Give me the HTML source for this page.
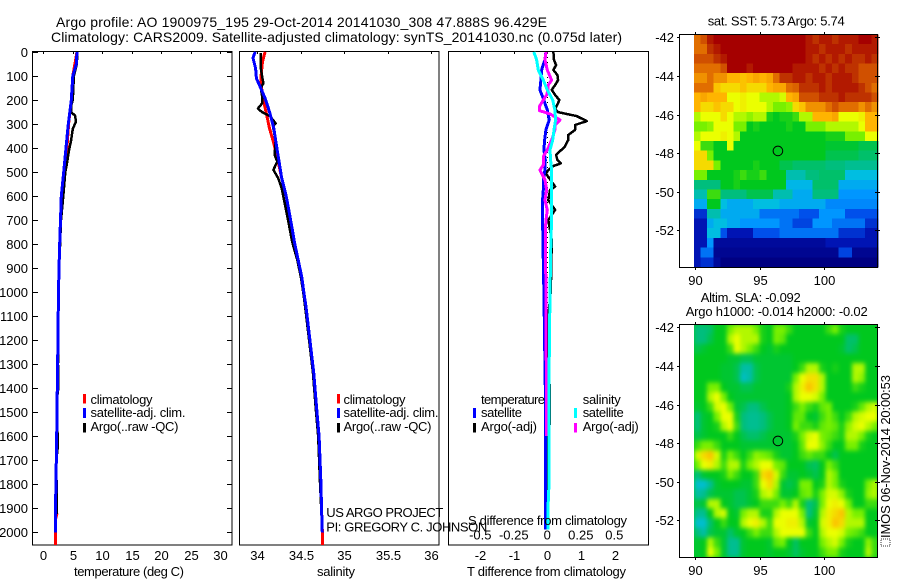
<!DOCTYPE html>
<html>
<head>
<meta charset="utf-8">
<title>Argo profile</title>
<style>
html,body{margin:0;padding:0;background:#fff;}
svg{display:block;}
text{font-family:"Liberation Sans",sans-serif;fill:#000;font-size:13px;}
.t{font-size:14px;}
</style>
</head>
<body>
<svg id="fig" xmlns="http://www.w3.org/2000/svg" width="900" height="580" viewBox="0 0 900 580">
<defs>
<filter id="slaSmooth" color-interpolation-filters="sRGB" x="-5%" y="-5%" width="110%" height="110%"><feGaussianBlur stdDeviation="2 2.5"/></filter>
<clipPath id="slaClip"><rect x="694" y="325" width="184" height="232"/></clipPath>
</defs>
<text class="t" x="56" y="27" textLength="491">Argo profile: AO 1900975_195 29-Oct-2014 20141030_308 47.888S 96.429E</text>
<text class="t" x="51" y="42" textLength="571">Climatology: CARS2009. Satellite-adjusted climatology: synTS_20141030.nc (0.075d later)</text>

<g id="maps">
<g id="sstCells"></g>
<g clip-path="url(#slaClip)">
<rect x="680" y="310" width="210" height="260" fill="rgb(0,200,40)"/>
<g id="slaCells" filter="url(#slaSmooth)"></g>
</g>
</g>
<g id="plots"></g>

<text x="129" y="576" text-anchor="middle" textLength="110">temperature (deg C)</text>
<text x="336" y="576" text-anchor="middle" textLength="38">salinity</text>
<text x="467" y="576" textLength="159">T difference from climatology</text>
<text x="468" y="525" textLength="159">S difference from climatology</text>

<g>
<rect x="83" y="394" width="3" height="9.5" fill="#f00"/>
<rect x="83" y="408" width="3" height="10" fill="#00f"/>
<rect x="83" y="423" width="3" height="9.5" fill="#000"/>
<text x="90.5" y="404" textLength="62">climatology</text>
<text x="90.5" y="417" textLength="95">satellite-adj. clim.</text>
<text x="90.5" y="431" textLength="88">Argo(..raw -QC)</text>
</g>
<g>
<rect x="337" y="394" width="3" height="9.5" fill="#f00"/>
<rect x="337" y="408" width="3" height="10" fill="#00f"/>
<rect x="337" y="423" width="3" height="9.5" fill="#000"/>
<text x="343.5" y="404" textLength="62">climatology</text>
<text x="343.5" y="417" textLength="95">satellite-adj. clim.</text>
<text x="343.5" y="431" textLength="88">Argo(..raw -QC)</text>
</g>
<g>
<text x="481" y="404" textLength="64">temperature</text>
<text x="582.7" y="404" textLength="38">salinity</text>
<rect x="473" y="408" width="3" height="10" fill="#00f"/>
<rect x="473" y="423" width="3" height="9.5" fill="#000"/>
<rect x="574" y="408" width="3" height="10" fill="#0ff"/>
<rect x="574" y="423" width="3" height="9.5" fill="#f0f"/>
<text x="481" y="417" textLength="41">satellite</text>
<text x="481" y="431" textLength="56">Argo(-adj)</text>
<text x="582.7" y="417" textLength="41">satellite</text>
<text x="582.7" y="431" textLength="56">Argo(-adj)</text>
</g>

<text x="326.3" y="517" textLength="117">US ARGO PROJECT</text>
<text x="326.3" y="531.5" textLength="161">PI: GREGORY C. JOHNSON</text>

<text x="707.7" y="25.5" textLength="137">sat. SST: 5.73 Argo: 5.74</text>
<text x="700.7" y="302" textLength="100">Altim. SLA: -0.092</text>
<text x="685.7" y="316" textLength="182">Argo h1000: -0.014 h2000: -0.02</text>
<text transform="translate(890,538) rotate(-90)" x="0" y="0" textLength="163">IMOS 06-Nov-2014 20:00:53</text>
<rect x="881" y="539" width="9" height="7" fill="none" stroke="#333" stroke-width="1" stroke-dasharray="1 1"/>
</svg>

<script>
/* ---------- profile data ---------- */
const tempClimP = [0,100,200,300,400,500,600,700,800,900,1000,1100,1200,1300,1400,1500,1600,1700,1800,1900,1925,1950,2054];
const tempClimV = [5.72,5.0,4.75,4.3,4.0,3.55,3.06,2.92,2.78,2.66,2.58,2.53,2.5,2.43,2.38,2.33,2.27,2.2,2.15,2.1,2.3,2.04,2.04];
const tempSatP = [0,50,100,200,300,400,500,600,700,800,900,1000,1100,1200,1300,1400,1500,1600,1700,1800,1850,1900,2003];
const tempSatV = [5.72,5.6,5.0,4.75,4.25,3.85,3.46,3.06,2.92,2.78,2.66,2.58,2.53,2.5,2.43,2.38,2.33,2.27,2.2,2.15,2.1,2.04,2.04];
const tempArgoP = [5,50,100,150,200,225,250,265,290,320,370,410,470,500,600,700,800,900,1000,1100,1200,1300,1400,1450,1550,1650,1700,1900,1925];
const tempArgoV = [5.75,5.7,5.2,5.1,5.0,4.7,4.7,5.38,5.55,5.0,4.7,4.36,3.97,3.74,3.4,3.0,2.85,2.7,2.6,2.55,2.55,2.5,2.55,2.3,2.4,2.45,2.2,2.3,2.3];

const salClimP = [0,5,40,110,180,249,318,375,457,526,596,665,735,790,867,936,1006,1061,1200,1339,1478,1603,1783,1922,1992,2054];
const salClimV = [34.09,34.085,34.06,34.04,34.057,34.1,34.14,34.185,34.24,34.28,34.33,34.365,34.40,34.425,34.47,34.505,34.535,34.555,34.605,34.65,34.68,34.71,34.73,34.74,34.747,34.747];
const salSatP = [0,5,25,68,110,151,193,249,318,388,457,526,596,665,735,790,867,936,1006,1061,1200,1339,1478,1603,1783,1922,2003];
const salSatV = [33.98,33.97,33.95,33.98,33.99,34.04,34.09,34.14,34.19,34.22,34.25,34.28,34.33,34.365,34.40,34.425,34.47,34.51,34.537,34.56,34.605,34.65,34.68,34.71,34.73,34.74,34.747];
const salArgoP = [5,68,110,130,151,193,214,235,249,267,297,311,370,430,457,491,526,568,638,707,790,867,936,1006,1061,1200,1339,1478,1603,1783,1900];
const salArgoV = [34.04,34.04,34.06,34.07,34.04,34.06,34.055,34.008,34.05,34.146,34.21,34.18,34.21,34.2,34.23,34.185,34.24,34.28,34.32,34.357,34.40,34.46,34.5,34.53,34.55,34.595,34.64,34.67,34.70,34.72,34.735];

const diffTSatP = [0,33,75,117,158,200,242,283,325,367,408,450,492,533,575,617,658,700,783,1000,1200,1400,1600,1800,1990];
const diffTSatV = [-0.04,-0.07,-0.17,-0.19,-0.22,-0.1,0,0.06,-0.04,-0.08,-0.1,-0.06,-0.07,-0.12,-0.12,-0.14,-0.14,-0.14,-0.13,-0.1,-0.08,-0.06,-0.06,-0.05,-0.05];
const diffTArgoP = [0,33,54,75,96,117,138,158,179,200,224,237,251,267,288,304,325,346,367,394,429,450,464,475,492,506,561,575,617,658,700,742,783,900,1000,1100,1200,1300,1400,1550,1560,1900];
const diffTArgoV = [0.18,0.2,0.26,0.18,0.3,0.32,0.23,0.13,0.23,0.36,0.28,0.23,0.33,0.87,1.17,0.82,0.82,0.62,0.62,0.52,0.26,0.3,0.4,0.18,0.03,-0.04,0.23,0.08,0.03,0.23,0.03,0.08,0.13,0.12,0.1,0.03,0.01,0.04,0.07,0.08,0,0];
const diffSSatP = [0,33,75,117,158,200,242,283,325,367,408,450,492,533,575,617,658,700,783,1000,1367,1800,1900,1990];
const diffSSatV = [-0.1,-0.08,-0.067,-0.03,0,0.04,0.057,0.062,0.05,0.04,0.02,0.025,0.032,0.032,0.032,0.032,0.032,0.032,0.027,0.02,0.013,0.013,0.005,0.005];
const diffSArgoP = [0,33,75,117,138,158,179,200,228,244,258,283,304,325,367,408,436,471,492,506,533,575,617,658,700,742,783,1000,1200,1400,1600];
const diffSArgoV = [-0.01,-0.017,0,0.032,0.007,0.007,-0.005,-0.03,-0.06,-0.06,0.02,0.095,0.057,0.057,0.032,0,-0.03,-0.03,-0.055,-0.042,-0.017,-0.005,-0.017,0,-0.01,-0.015,-0.015,-0.01,-0.01,-0.005,-0.005];

/* ---------- tick labels ---------- */
const pressureTicks = [0,100,200,300,400,500,600,700,800,900,1000,1100,1200,1300,1400,1500,1600,1700,1800,1900,2000];
const tempTicks = [0,5,10,15,20,25,30];
const salTicks = [34,34.5,35,35.5,36];
const diffTTicks = [-2,-1,0,1,2];
const diffSTicks = [-0.5,-0.25,0,0.25,0.5];
const lonTicks = [90,95,100];
const latTicks = [-42,-44,-46,-48,-50,-52];
const profileLon = [96.429];
const profileLat = [-47.888];

/* ---------- map data: colour-level per cell, north to south ---------- */
const sstGrid = [
[10,10.5,11.5,12,12,12,12,12,12,12,12,12,12,12,12,12,12,11.5,11,11.5,11.5,11,11.5,11.5,11.5,12,12,11.5],
[10,10,11,11.5,12,12,12,12,12,12,12,12,12,12,12,12,12,11.5,11.5,11,11.5,11.5,11.5,11,11.5,11.5,11.5,11.5],
[10.5,10.5,10.5,11,11.5,12,12,12,12,12,12,12,12,12,12,12,12,11.5,11,11.5,11,11.5,11,11.5,11,11,11.5,11],
[10,10,10,10,10.5,12,12,12,11.5,12,12,12,12,12,12,11.5,11.5,11.5,11.5,11,11.5,11,11.5,11,11,10.5,10.5,10.5],
[9.5,9.5,10,9.5,9.5,9,9,8.8,9,9.2,9,9.2,10,11,11,11.5,11.5,11,11.5,11.5,11,11.5,11.5,11.5,11,10.5,10.5,10.5],
[10,10,10,8.8,8.5,8.5,8.5,8.8,8.5,8.5,8.5,9,9.2,9.2,10,10.2,11,11,11,11.5,11,11.5,11.5,11.5,11.5,11,10.5,10],
[9,9.2,9,9,9,8,8,8.2,8,8,7.5,7.5,7.5,7.8,9,9.2,10.5,10.5,10.5,11,11,11,11.5,11,11,11,11,10.5],
[9,8.5,8.5,8.8,8.5,8.5,8,8.2,8,8,8,7.5,7,7,7.2,8.5,8.8,9.5,9.5,9.5,10,10.5,10,10,10,9.5,10,9.5],
[7.5,8,8,8,8.5,8,7.5,7.5,7.2,7.5,7.5,6.2,6,6.2,6.2,6.5,7.5,7.5,9,9,9,9.2,8,8,8,8.2,9,9],
[7,7,7.2,8,8,8,7,7,6,6.2,6,6,6,6,6.2,6,6,7,7,7,7.5,7.5,7.5,7.5,7.5,8,9,9],
[7.5,8,8,8,8.2,8,7.5,6,6,6,6,6,6,6,6,6,6,6,6,6,6.2,6.2,6.2,7,7,7,8,8],
[8,6.5,6.5,6,6,8,6,6,6,6,6,6,6,6,6,6,6,6,6,6,5.8,5.8,5.8,5.8,5.8,5.5,5.5,5.5],
[8.5,8.5,7,6,6,6,6,6,6,6,6,6,6,6,6,6,6,6,6,6,5.5,5.5,5.5,5.5,5.5,5.2,5.2,5.2],
[8.5,8.5,8.5,7,6,6,6,6,6,6.2,6,6,6,5.5,5.5,5.2,5.2,5.2,5.2,5.2,5,5,5,4.8,4.8,4.8,4.8,4.8],
[7,7,6,6,6,6,6.2,6.5,6.2,6.2,6.5,6,6,6,4.5,4.5,4.5,5,5,5.2,5.2,5.2,5.2,4,4,4,4,4],
[5,5,5,5,6,6,6.2,6,6,6,6,6,6,6,3.8,3.8,3.8,3.8,5.2,5.2,5.2,5.2,3.5,3.5,3.5,3.5,3.5,3.5],
[4.5,4.5,6.5,6.5,5,5,5,5,5.5,5.5,5.5,5.5,4.5,4.5,4.5,3.5,3.5,3.5,5,5,5,5,3,3,3,3,3,3],
[3.5,3.5,6,6,4,3.5,3.5,3.5,3.5,4,4,4,4,3.5,3.5,3.5,3.5,3.5,3.5,3.5,2.8,2.8,2.8,2.8,2.8,2.8,2.8,2.8],
[1.5,1.5,4.5,4.5,3.5,3.5,3.5,3.5,3.5,3.5,2.5,2.5,2.5,2.5,2.5,2.5,2,2,2,3,3,3,3,2,2,2,2,2],
[1,1,3.5,4,4,3.5,3.5,3,3,3,3,3,3,2.5,2.5,1.8,1.8,1.8,3,3,3,2.5,2.5,2.5,2.5,2.5,1.5,1.5],
[1,1,4,4,2,1,1,1,1,2,2,2,2,2.5,2.5,2.5,2.5,2.5,2.5,2.5,2.5,2.5,1.5,1.5,1.5,1.5,1,1],
[1,1,3,0.5,0.5,0.5,0.5,0.5,0.5,0.5,0.5,0.5,0.5,0.5,0.5,0.5,0.5,0.5,0.5,0.5,1,1,1,1,1,1,1,1],
[1,2.5,2.5,0.3,0.3,0.3,0.3,0.3,0.3,0.3,0.3,0.3,0.3,0.3,0.3,0.3,0.3,0.3,0.3,0.3,0.3,0.3,1.8,1.8,0.3,0.3,0.3,0.3],
[1,1.5,1.5,0.5,0,0,0,0,0,0,0,0,0,0,0,0,0,0,0,0,0,0,0,0,0,0,0,0]
];
const slaGrid = [
[5,5,5.2,6,6,7,7.5,7.5,7.5,7,6.2,6,7,7,6.5,6,6,6,6,6,6.5,7,6.2,6,6,6,6,6],
[5,5,5.5,6,6,7.5,8,7.5,7.5,7.5,6.2,6,7,6.8,6,6,6,6,6,6,6,6,6,5.2,5.2,6,6,6],
[5.5,5.8,6,6,6,6.5,8,7.5,7,6.5,6,5.8,6.2,6,6,6,6,6,6,6,6,6,5.8,5.2,5.5,6,6,6],
[6,6,6,6,6,5.8,5.8,5.5,5.5,5.8,5.8,5.8,5.8,5.8,5.8,6,6,6,6,6,6,6,6,6,6,6,6,6],
[6,6,6,6,5.8,5.8,5.5,4.6,4.6,5.5,5.8,5.8,5.8,5.8,5.8,6,6.5,7.5,7.5,6.2,6,6.2,6,6,7.5,7.5,6,6],
[6,6,6,6,5.8,5.8,5.5,4.3,4.6,5.5,5.8,5.8,5.8,5.8,5.8,7,8,8.4,8.4,7.5,6,6,6,6,7.5,7.2,6,6],
[6,6,7,7,6,5.8,5.8,5.5,5.5,5.8,5.8,5.8,5.8,5.8,6.2,7.5,8.2,8.8,8.4,7.5,6,6,6,6,6.5,6.2,6,6],
[6,6,7.5,8,7,6,5.8,5.8,5.8,5.8,5.8,5.8,5.8,5.8,6,7.5,8,8,7.8,7,6,6,6,6,6,6,6,6],
[5.8,6,6.5,7.8,8,7,5.8,5.5,5,5,5.5,5.8,5.8,5.8,6,6.5,7,6.5,6.2,6.8,7,6,6,6,6.2,6.8,7.5,7.8],
[5,5.8,6,7,8,8,6.2,5,4.8,4.8,5,5.5,5.8,5.8,6,6.8,6.8,6,5.8,6.5,7,6.5,6,6.5,7.5,7.8,8,8],
[5,5.8,6,6.2,7.5,8,6.5,5,4.8,4.8,5,5.5,5.8,5.8,6,7,6.5,6.5,6.2,6.8,7,6.8,6.2,7.2,7.8,8,7.5,7],
[5.5,5.8,6,6,6,6.5,6,5.5,5.2,5.2,5.5,5.8,5.8,5.8,5.8,6.2,7,7.8,8,7,6.8,6.5,6.2,7.5,7.5,7,6.2,6],
[6.5,7,7,6.5,6,6,6,5.8,5.8,5.8,5.8,5.8,5.8,5.8,5.8,6,6.8,8,8,7.2,6.5,6,6,7,7,6.2,6,6],
[7.8,8.5,8.8,7.8,6.2,7,6.5,6,6.5,7.2,7,6.8,6.2,5.8,5.8,6,6.5,6.8,6.5,6.5,6,5.5,6,6,6,6,6,6],
[7,8,8.2,7.5,6.5,7.5,7.5,6.2,7,7.5,8,8,7,6.8,6,6,6,5.5,5.3,6,7,6.5,6,6,6,6,6,6],
[5,5.8,6,6,6.2,7,6.5,6,6,6.5,8.5,8.8,7.8,6.5,5.8,5.8,6,5.8,5.5,6,7.5,7,6,6,6,6,6,6],
[4.2,4.2,4.8,5.8,6,6,6,5.8,5.8,6.5,8,8.5,7.5,5.8,5.5,5.8,7,7,6,6.2,7.5,7,6.2,6,6,6,7,7.5],
[4.6,4.8,5.5,5.8,5.8,5.8,5.5,5.5,5.8,6.2,7.5,7.8,7,5.8,5.8,6,6.8,7,6.2,7,7.8,7.8,7.2,6.2,6,6,7.2,7.5],
[5.5,5.8,7.5,7.5,6,5.8,5.5,5.5,5.8,6,6.5,6.5,6.5,7,6.5,7.5,6.2,5,5.5,7,8,8.2,8,7,6,6,6.5,6.5],
[4.8,4.8,6,7.5,7.8,6,5.8,7,7.5,7.5,6.2,6.2,7.5,8,8,8,7,5,5.8,7.5,8.2,8.5,8.8,7.5,7,7,6,6],
[4.2,4.2,5.2,6,6.5,6,6,7.5,8,8.2,7.5,6.5,8,8,8.2,8.2,7.5,5.8,6,7.8,8.2,8.8,8.5,7.5,7.5,7.5,6,6],
[5,4.6,5.5,5.8,5.8,5.2,5.8,6,6.5,7,6.5,6.5,7.5,8,8,8,8,6.5,6,7.5,8,8,7.8,7,6.8,6.5,6,6],
[5.8,6,7.5,6.5,5.8,4.8,4.8,5.8,6,6,6,5.8,6.8,7,6,5.3,6,6,6,7,7.5,7.8,7,6.2,6,6,7.2,6.5],
[5.8,6,8,7,5.8,4.8,4.8,5.8,6,6,6,5.8,6,6,5.8,5.3,5.8,6,6,6.5,7,7,6.2,6,6,6,7.5,6.5]
];

/* ---------- axis functions ---------- */
const NS = 'http://www.w3.org/2000/svg';
const plots = document.getElementById('plots');
const maps = document.getElementById('maps');
const sstLayer = document.getElementById('sstCells');
const slaLayer = document.getElementById('slaCells');
function yP(p){ return 52 + 0.24 * p; }
function xTemp(t){ return 43.3 + 5.89 * t; }
function xSal(s){ return 257.3 + 87 * (s - 34); }
function xDiffT(d){ return 547.3 + 33.75 * d; }
function xDiffS(d){ return 547.3 + 134 * d; }
function xLon(lon){ return 695 + 12.9 * (lon - 90); }
function yLatTop(lat){ return 37.3 + 19.3 * (-42 - lat); }
function yLatBottom(lat){ return 327.3 + 19.3 * (-42 - lat); }

function make(tag, parent, attrs){
  const el = document.createElementNS(NS, tag);
  for (const k in attrs) el.setAttribute(k, attrs[k]);
  parent.appendChild(el);
  return el;
}
function profile(ps, vs, xf, color, width){
  const pts = ps.map((p, i) => xf(vs[i]).toFixed(1) + ',' + yP(p).toFixed(1)).join(' ');
  return make('polyline', plots, {points: pts, fill: 'none', stroke: color, 'stroke-width': width, 'stroke-linejoin': 'round', 'shape-rendering': 'crispEdges'});
}
function seg(parent, x1, y1, x2, y2){
  return make('line', parent, {x1: x1, y1: y1, x2: x2, y2: y2, stroke: '#000', 'stroke-width': 1, 'shape-rendering': 'crispEdges'});
}
function label(parent, x, y, str, anchor){
  const t = make('text', parent, {x: x, y: y, 'text-anchor': anchor});
  t.textContent = str;
  return t;
}
function frame(parent, x, y, w, h){
  return make('rect', parent, {x: x, y: y, width: w, height: h, fill: 'none', stroke: '#000', 'stroke-width': 1, 'shape-rendering': 'crispEdges'});
}

/* ---------- colour scale ---------- */
const stops = [[0,0,130],[0,20,180],[0,80,235],[0,150,255],[0,190,225],[0,190,125],[0,200,30],[120,240,0],[235,255,0],[255,180,0],[225,110,0],[190,50,0],[165,0,0]];
function levelColor(v){
  const i = Math.max(0, Math.min(stops.length - 2, Math.floor(v)));
  const f = Math.max(0, Math.min(1, v - i));
  const c = stops[i].map((a, k) => Math.round(a + (stops[i + 1][k] - a) * f));
  return 'rgb(' + c.join(',') + ')';
}
function cellLon(col, n){ return 89.92 + col * 14.27 / n; }
function cellLat(row, n){ return -41.85 - row * 12.05 / n; }

/* ---------- maps ---------- */
sstGrid.forEach((vals, r) => {
  vals.forEach((v, c) => {
    const x0 = xLon(cellLon(c, vals.length));
    const x1 = xLon(cellLon(c + 1, vals.length));
    const y0 = yLatTop(cellLat(r, sstGrid.length));
    const y1 = yLatTop(cellLat(r + 1, sstGrid.length));
    const cell = make('rect', sstLayer, {x: x0.toFixed(2), y: y0.toFixed(2), width: (x1 - x0 + 0.4).toFixed(2), height: (y1 - y0 + 0.4).toFixed(2), fill: levelColor(v), 'shape-rendering': 'crispEdges'});
    
    
  });
});
slaGrid.forEach((vals, r) => {
  vals.forEach((v, c) => {
    const x0 = xLon(cellLon(c, vals.length));
    const x1 = xLon(cellLon(c + 1, vals.length));
    const y0 = yLatBottom(cellLat(r, slaGrid.length));
    const y1 = yLatBottom(cellLat(r + 1, slaGrid.length));
    const cell = make('rect', slaLayer, {x: x0.toFixed(2), y: y0.toFixed(2), width: (x1 - x0 + 0.4).toFixed(2), height: (y1 - y0 + 0.4).toFixed(2), fill: levelColor(v), 'shape-rendering': 'crispEdges'});
    
    
  });
});
const sstFrame = frame(maps, 679.5, 34.5, 198, 233);


const slaFrame = frame(maps, 679.5, 324.5, 198, 233);


latTicks.forEach(lat => {
  [yLatTop(lat), yLatBottom(lat)].forEach(y => {
    const yy = Math.round(y) + 0.5;
    const a = seg(maps, 677, yy, 680, yy);
    
    
    const b = seg(maps, 875, yy, 880, yy);
    
    
    const t = label(maps, 674, yy + 4.5, String(lat), 'end');
    
    
  });
});
lonTicks.forEach(lon => {
  const x = Math.round(xLon(lon)) + 0.5;
  [[267, 285], [557, 575]].forEach(pair => {
    const a = seg(maps, x, pair[0], x, pair[0] + 3);
    
    
    const b = seg(maps, x, pair[0] - 235, x, pair[0] - 232);
    
    
    const t = label(maps, x, pair[1], String(lon), 'middle');
    
    
  });
});
const sstMarker = make('circle', maps, {cx: xLon(profileLon[0]), cy: yLatTop(profileLat[0]), r: 4.8, fill: 'none', stroke: '#000', 'stroke-width': 1});


const slaMarker = make('circle', maps, {cx: xLon(profileLon[0]), cy: yLatBottom(profileLat[0]), r: 4.8, fill: 'none', stroke: '#000', 'stroke-width': 1});



/* ---------- panel frames and ticks ---------- */
const f1 = frame(plots, 32.5, 51.5, 199.5, 493.5);


const f2 = frame(plots, 239.5, 51.5, 199.5, 493.5);


const f3 = frame(plots, 448.5, 51.5, 200, 493.5);



pressureTicks.forEach(p => {
  const y = Math.round(yP(p)) + 0.5;
  const a = seg(plots, 33, y, 38, y);
  
  
  const b = seg(plots, 227, y, 232, y);
  
  
  const t = label(plots, 28, y + 4.5, String(p), 'end');
  
  
});
tempTicks.forEach(v => {
  const x = Math.round(xTemp(v)) + 0.5;
  const a = seg(plots, x, 52, x, 54);
  
  
  const t = label(plots, x, 560, String(v), 'middle');
  
  
});
salTicks.forEach(v => {
  const x = Math.round(xSal(v)) + 0.5;
  const a = seg(plots, x, 52, x, 54);
  
  
  const t = label(plots, x, 560, String(v), 'middle');
  
  
});
diffTTicks.forEach(v => {
  const x = Math.round(xDiffT(v)) + 0.5;
  const a = seg(plots, x, 52, x, 54);
  
  
  const t = label(plots, x, 560, String(v), 'middle');
  
  
});
diffSTicks.forEach(v => {
  const t = label(plots, xDiffS(v), 539.5, String(v), 'middle');
  
  
});

/* ---------- series ---------- */
const tc = profile(tempClimP, tempClimV, xTemp, '#f00', 3);


const ta = profile(tempArgoP, tempArgoV, xTemp, '#000', 2.5);


const ts = profile(tempSatP, tempSatV, xTemp, '#00f', 3);



const sc = profile(salClimP, salClimV, xSal, '#f00', 3);


const sa = profile(salArgoP, salArgoV, xSal, '#000', 2.5);


const ss = profile(salSatP, salSatV, xSal, '#00f', 3);



const zero = make('line', plots, {x1: xDiffT(0), y1: yP(0), x2: xDiffT(0), y2: yP(2000), stroke: '#000', 'stroke-width': 1, 'stroke-dasharray': '1 4', 'shape-rendering': 'crispEdges'});


const dta = profile(diffTArgoP, diffTArgoV, xDiffT, '#000', 2.5);


const dts = profile(diffTSatP, diffTSatV, xDiffT, '#00f', 3);


const dsa = profile(diffSArgoP, diffSArgoV, xDiffS, '#f0f', 3);


const dss = profile(diffSSatP, diffSSatV, xDiffS, '#0ff', 3);


</script>
</body>
</html>
